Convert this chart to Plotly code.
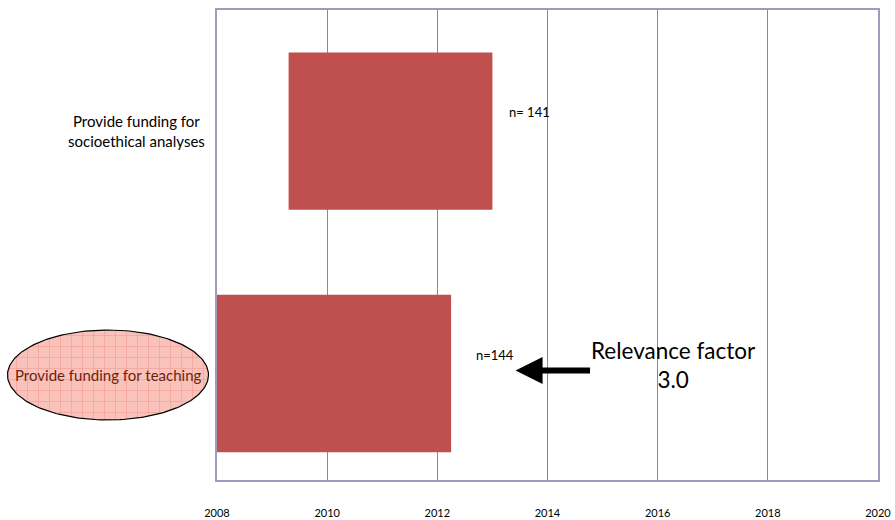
import plotly.graph_objects as go
import numpy as np

categories = ["Provide funding for teaching", "Provide funding for<br>socioethical analyses"]
start_year = [2008.0, 2009.3]
end_year = [2012.25, 2013.0]
n_labels = ["n=144", "n= 141"]
x_ticks = [2008, 2010, 2012, 2014, 2016, 2018, 2020]

W, H = 895, 520
L, R, T, B = 217, 878, 10, 480  # plot area in pixels

fig = go.Figure()
fig.add_trace(go.Bar(
    y=[0, 1],
    x=[e - s for s, e in zip(start_year, end_year)],
    base=start_year,
    orientation="h",
    width=0.65,
    marker=dict(color="#c0504d", line=dict(width=0)),
    hoverinfo="skip",
))

# ellipse highlight behind the lower category label (overlay axes in pixel units)
t = np.linspace(0, 2 * np.pi, 200)
ex = 108 + 100.5 * np.cos(t)
ey = 375 + 45 * np.sin(t)
fig.add_trace(go.Scatter(
    x=ex, y=ey, xaxis="x2", yaxis="y2", mode="lines", fill="toself",
    fillcolor="#f9c3bb",
    fillpattern=dict(shape="+", fgcolor="#e8584a", bgcolor="#f9c3bb", size=11, solidity=0.08),
    line=dict(color="black", width=1.2), hoverinfo="skip", showlegend=False,
))

fig.update_layout(
    width=W, height=H,
    margin=dict(l=0, r=0, t=0, b=0),
    plot_bgcolor="rgba(0,0,0,0)", paper_bgcolor="white",
    showlegend=False,
    font=dict(family="Lato", color="black"),
    xaxis=dict(domain=[L / W, R / W], range=[2008, 2020], tickvals=x_ticks,
               ticktext=[str(v) for v in x_ticks],
               showgrid=True, gridcolor="#8a8a8a", gridwidth=1,
               showline=True, linecolor="#9c9cbc", linewidth=2, mirror=True,
               ticks="", tickfont=dict(size=11, family="Lato"), ticklabelstandoff=22,
               zeroline=False, automargin=False, anchor="y"),
    yaxis=dict(domain=[1 - B / H, 1 - T / H], range=[-0.44, 1.5], tickvals=[0, 1],
               ticktext=["", ""],
               showgrid=False, showline=True, linecolor="#9c9cbc", linewidth=2, mirror=True,
               ticks="", zeroline=False, automargin=False, anchor="x"),
    xaxis2=dict(domain=[0, 1], range=[0, W], visible=False, anchor="y2", fixedrange=True),
    yaxis2=dict(domain=[0, 1], range=[H, 0], visible=False, anchor="x2", fixedrange=True),
)

fig.add_annotation(x=108, y=375, xref="x2", yref="y2", text=categories[0], showarrow=False,
                   font=dict(size=15, color="#6e1e10", family="Lato"))
fig.add_annotation(x=136, y=131, xref="x2", yref="y2", text=categories[1], showarrow=False,
                   align="center", font=dict(size=15, color="black", family="Lato"))

fig.add_annotation(x=2013.67, y=1.08, text=n_labels[1], showarrow=False,
                   font=dict(size=13, family="Lato"))
fig.add_annotation(x=2013.04, y=0.078, text=n_labels[0], showarrow=False,
                   font=dict(size=13, family="Lato"))
fig.add_annotation(x=2013.42, y=0.012, ax=76, ay=0, text="", showarrow=True,
                   arrowhead=2, arrowsize=0.9, arrowwidth=6, arrowcolor="black")
fig.add_annotation(x=2016.29, y=0.035, text="Relevance factor<br>3.0", showarrow=False,
                   font=dict(size=22.5, family="Lato", color="black"))

fig.write_html("out.html")
